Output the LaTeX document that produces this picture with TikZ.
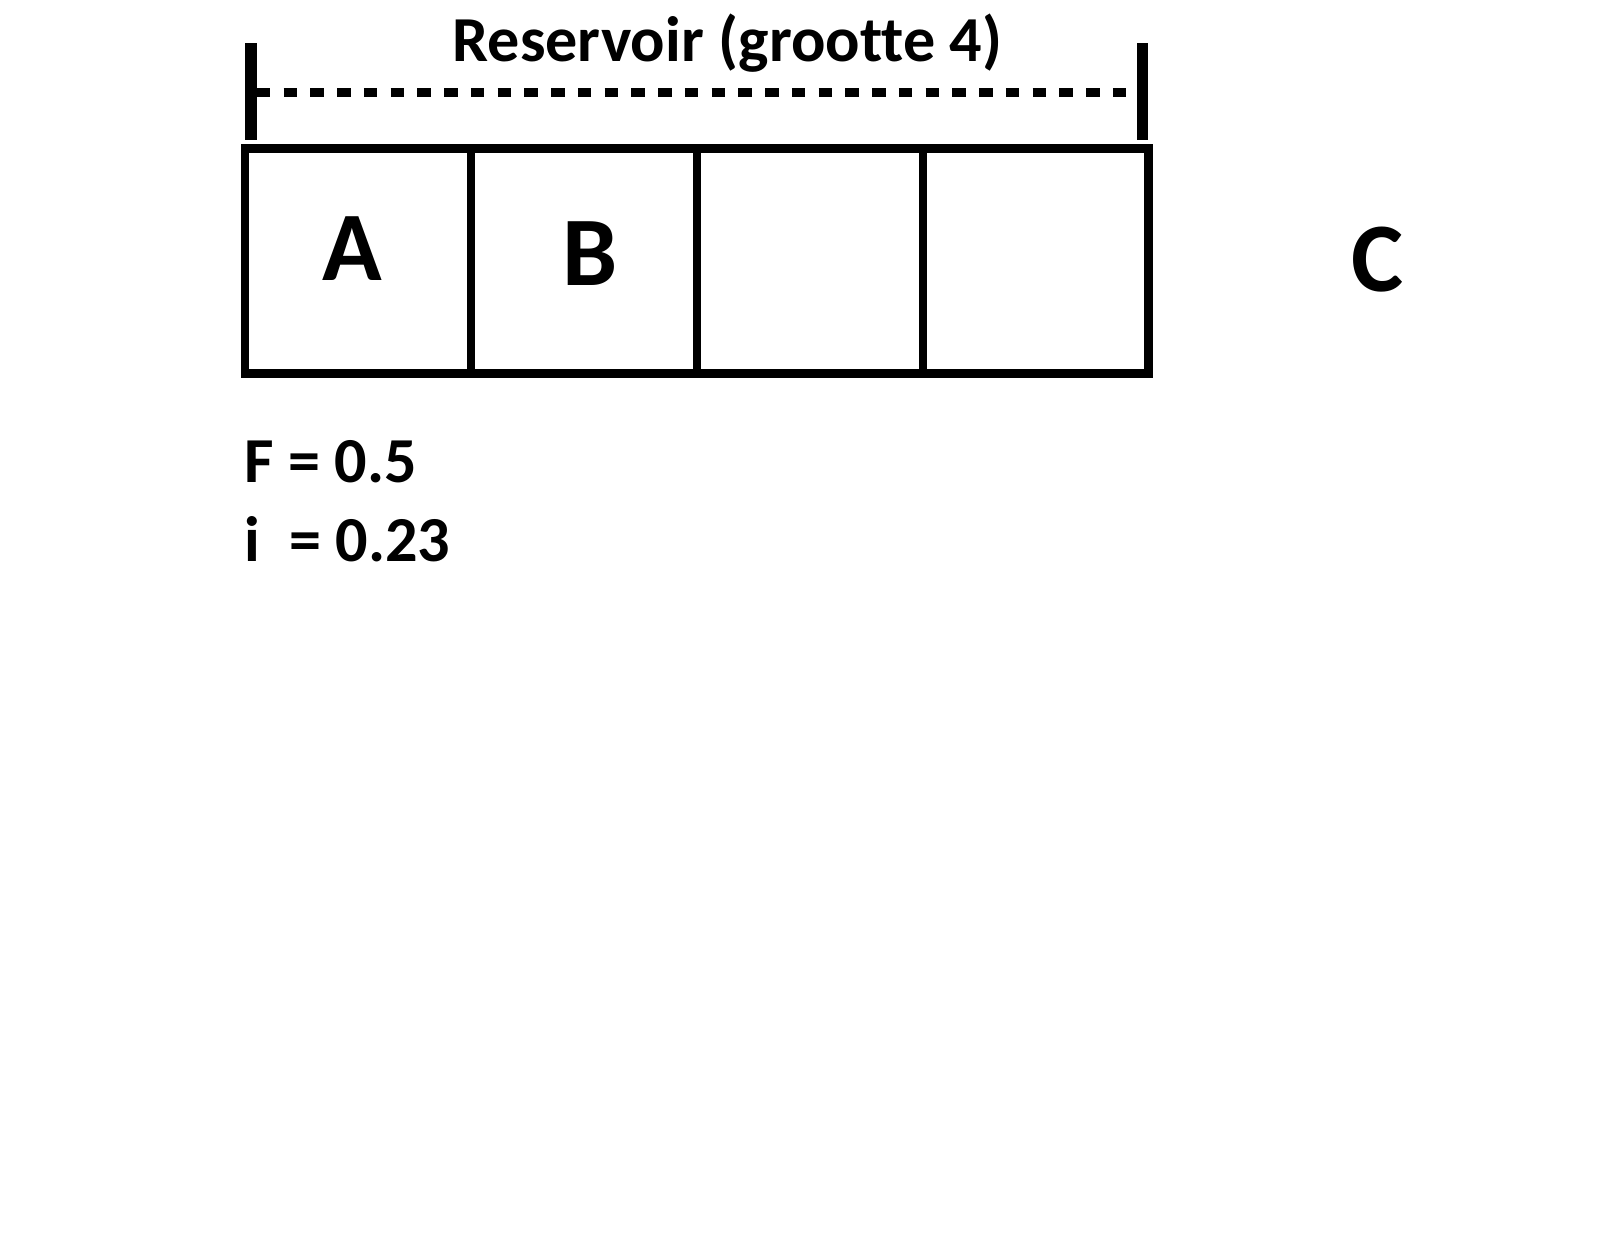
\documentclass[tikz,border=0pt]{standalone}
\usepackage{fontspec}
\setmainfont{Carlito}[Ligatures={NoCommon}]
\usetikzlibrary{positioning}
\begin{document}
\begin{tikzpicture}[x=0.02cm, y=-0.02cm, node distance={4.518cm},
    cell/.style = {draw, line width=4.6pt, minimum width=4.518cm, minimum height=4.5cm, inner sep=0pt},
    big/.style = {font=\bfseries\fontsize{56}{60}\selectfont, inner sep=0pt},
    txt/.style = {font=\bfseries\fontsize{36.5}{40}\selectfont, inner sep=0pt},
    bar/.style = {line width=6.3pt}]
    \useasboundingbox (0,0) rectangle (1617,1250);
    % reservoir cells
    \node[cell] (1) at (358,261) {};
    \node[cell] (2) [right of=1] {};
    \node[cell] (3) [right of=2] {};
    \node[cell] (4) [right of=3] {};
    \node[big] (a) at (352,249) {A};
    \node[big] (b) at (590,254) {B};
    \node[big] (c) at (1378,260) {C};
    % size marker
    \coordinate (l) at (251,92.5);
    \coordinate (r) at (1142.5,92.5);
    \draw[bar] ([yshift=0.99cm]l) -- ([yshift=-0.95cm]l);
    \draw[bar] ([yshift=0.99cm]r) -- ([yshift=-0.95cm]r);
    \draw[line width=5pt, dash pattern=on 0.27cm off 0.265cm] ([xshift=0.12cm]l) -- ([xshift=-0.12cm]r);
    \node[txt, anchor=base] (title) at (727.5,62) {Reservoir (grootte 4)};
    % parameters
    \node[txt, anchor=base west] (f) at (244,482) {F = 0.5};
    \node[txt, anchor=base west] (i) at (244,561) {i~~= 0.23};
\end{tikzpicture}
\end{document}
